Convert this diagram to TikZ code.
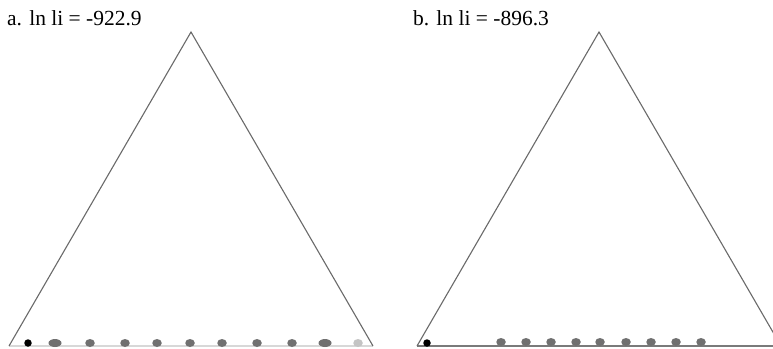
\documentclass[tikz,border=0pt]{standalone}
\usepackage{fontspec}
\setmainfont{Liberation Serif}
\usetikzlibrary{shapes.geometric}
\definecolor{edgegray}{HTML}{6A6A6A}
\definecolor{dotgray}{HTML}{707070}
\definecolor{lightdot}{HTML}{C4C4C4}
\definecolor{basegray}{HTML}{D8D8D8}
\definecolor{basedark}{HTML}{7A7A7A}
\tikzset{
  edge/.style={draw=edgegray, line width=1.1},
  lbl/.style={anchor=base west, inner sep=0pt, font=\fontsize{21.5}{25}\selectfont},
  gdot/.style={ellipse, fill=dotgray, inner sep=0pt, minimum width=9.5, minimum height=8},
  wdot/.style={ellipse, fill=dotgray, inner sep=0pt, minimum width=13, minimum height=8},
  ldot/.style={ellipse, fill=lightdot, inner sep=0pt, minimum width=9.5, minimum height=8},
  bdot/.style={circle, fill=black, inner sep=0pt, minimum size=7.5},
}
\begin{document}
\begin{tikzpicture}[x=1pt,y=-1pt]
\useasboundingbox (0,0) rectangle (773,348);
\clip (0,0) rectangle (773,348);
\fill[white] (0,0) rectangle (773,348);
% labels
\node[lbl] (la) at (7,25) {a. ln li = -922.9};
\node[lbl] (lb) at (413,25) {b. ln li = -896.3};
% left triangle
\coordinate (aA) at (191,32);
\coordinate (aB) at (9,346);
\coordinate (aC) at (373,346);
\draw[basegray, line width=1.1] (aB) -- (aC);
\draw[edge] (aB) -- (aA) -- (aC);
% right triangle
\coordinate (bA) at (599,32);
\coordinate (bB) at (417,346);
\coordinate (bC) at (781,346);
\draw[basedark, line width=1.1] (bB) -- (bC);
\draw[edge] (bB) -- (bA) -- (bC);
% left dots
\node[bdot] (d0) at (28,343) {};
\node[wdot] (d1) at (55,343) {};
\foreach \x [count=\i from 2] in {90,125,157,190,222,257,292} {
  \node[gdot] (d\i) at (\x,343) {};
}
\node[wdot] (d9) at (325,343) {};
\node[ldot] (d10) at (358,343) {};
% right dots
\node[bdot] (e0) at (427,343) {};
\foreach \x [count=\i] in {501,526,551,576,600,626,651,676,701} {
  \draw[dotgray, line width=1.8] (\x,342) -- (\x,346);
  \node[gdot] (e\i) at (\x,342) {};
}
\end{tikzpicture}
\end{document}
